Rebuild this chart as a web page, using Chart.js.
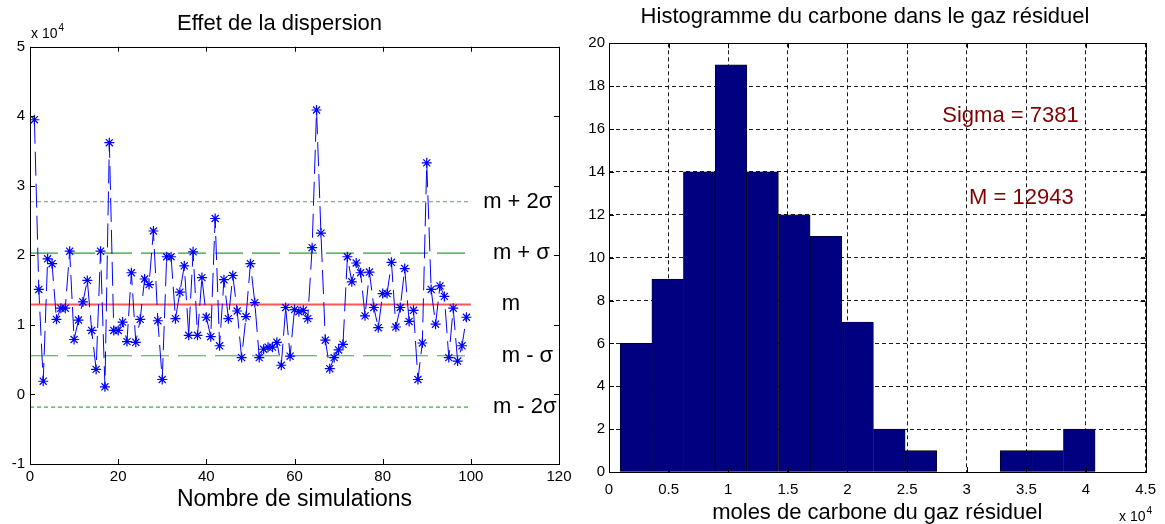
<!DOCTYPE html>
<html>
<head>
<meta charset="utf-8">
<script src="https://cdn.jsdelivr.net/npm/chart.js@4.4.1/dist/chart.umd.min.js"></script>
<style>
  html, body { margin: 0; padding: 0; background: #fff; }
  #wrap { position: relative; width: 1165px; height: 524px; overflow: hidden; }
  #leftBox { position: absolute; left: 0; top: 0; width: 580px; height: 524px; }
  #rightBox { position: absolute; left: 580px; top: 0; width: 585px; height: 524px; }
</style>
</head>
<body>
<div id="wrap">
  <div id="leftBox"><canvas id="dispChart" width="580" height="524"></canvas></div>
  <div id="rightBox"><canvas id="histChart" width="585" height="524"></canvas></div>
</div>
<script>
// --- Données : effet de la dispersion (moles de carbone, simulations 1..99) ---
const simValues = [
  39500, 15100, 1900, 19500, 18800, 10800, 12400, 12400, 20600, 7900,
  10700, 13300, 16400, 9200, 3600, 20600, 1100, 36200, 9200, 9200,
  10400, 7600, 17500, 7500, 10800, 16600, 15800, 23500, 10600, 2150,
  19800, 19800, 10900, 14700, 18500, 8500, 20500, 8500, 16800, 11100,
  8300, 25300, 7000, 16500, 10900, 17100, 12000, 5300, 11200, 18800,
  13200, 5300, 6500, 6800, 6800, 7500, 4200, 12500, 5500, 12200,
  11900, 12100, 10900, 21100, 40900, 23200, 7800, 3700, 5300, 6400,
  7200, 19800, 16200, 18900, 17500, 11300, 17600, 12500, 9600, 14500,
  14500, 19000, 9700, 12500, 18100, 10500, 12100, 2150, 7400, 33300,
  15100, 10100, 15600, 14100, 5300, 12400, 4800, 7000, 11100
];

// lignes de référence m, m ± sigma, m ± 2 sigma
const refLabels = ['m + 2σ', 'm + σ', 'm', 'm - σ', 'm - 2σ'];
const refLevels = [27705, 20324, 12943, 5562, -1819];
const refColors = ['#7a8f7a', '#008000', '#ff5555', '#4f9a4f', '#00a000'];
const refDashes = [[4, 3], [28, 9], [], [28, 9], [4, 3]];
const refWidths = [1, 1, 2, 1, 1];
const refLabelX = [102.8, 105, 107, 107, 105];
const refRange = [0, 100];

// --- Données : histogramme ---
const binCenters = [2260, 4920, 7570, 10230, 12880, 15540, 18190, 20850,
                    23510, 26160, 28820, 31470, 34130, 36780, 39440];
const binCounts = [6, 9, 14, 19, 14, 12, 11, 7, 2, 1, 0, 0, 1, 1, 2];

const statLabels = ['Sigma = 7381', 'M = 12943'];
const statX = [27950, 30200];
const statY = [16.6, 12.8];

const FONT = "'Liberation Sans', Arial, sans-serif";

// cadre + petites graduations intérieures (style matlab)
const framePlugin = {
  id: 'frame',
  afterDatasetsDraw(chart) {
    const { ctx, chartArea: a } = chart;
    const xs = chart.scales.x, ys = chart.scales.y;
    ctx.save();
    ctx.strokeStyle = '#000';
    ctx.lineWidth = 1;
    ctx.setLineDash([]);
    ctx.beginPath();
    xs.ticks.forEach(t => {
      const px = Math.round(xs.getPixelForValue(t.value)) + 0.5;
      ctx.moveTo(px, a.bottom); ctx.lineTo(px, a.bottom - 5);
      ctx.moveTo(px, a.top); ctx.lineTo(px, a.top + 5);
    });
    ys.ticks.forEach(t => {
      const py = Math.round(ys.getPixelForValue(t.value)) + 0.5;
      ctx.moveTo(a.left, py); ctx.lineTo(a.left + 5, py);
      ctx.moveTo(a.right, py); ctx.lineTo(a.right - 5, py);
    });
    ctx.stroke();
    ctx.strokeRect(Math.round(a.left) + 0.5, Math.round(a.top) + 0.5,
                   Math.round(a.right - a.left), Math.round(a.bottom - a.top));
    ctx.restore();
  }
};

function drawExponent(ctx, x, y) {
  ctx.save();
  ctx.fillStyle = '#000';
  ctx.textAlign = 'left';
  ctx.textBaseline = 'alphabetic';
  ctx.font = '14px ' + FONT;
  ctx.fillText('x 10', x, y);
  const w = ctx.measureText('x 10').width;
  ctx.font = '10px ' + FONT;
  ctx.fillText('4', x + w + 1, y - 7);
  ctx.restore();
}

const dispNotes = {
  id: 'dispNotes',
  afterDraw(chart) {
    const { ctx, chartArea: a } = chart;
    const xs = chart.scales.x, ys = chart.scales.y;
    ctx.save();
    ctx.fillStyle = '#000';
    ctx.font = '22px ' + FONT;
    ctx.textAlign = 'left';
    ctx.textBaseline = 'middle';
    refLabels.forEach((lab, i) => {
      ctx.fillText(lab, xs.getPixelForValue(refLabelX[i]), ys.getPixelForValue(refLevels[i]));
    });
    ctx.restore();
    drawExponent(ctx, a.left + 1, a.top - 9);
  }
};

const histNotes = {
  id: 'histNotes',
  afterDraw(chart) {
    const { ctx } = chart;
    const xs = chart.scales.x, ys = chart.scales.y;
    ctx.save();
    ctx.fillStyle = '#800000';
    ctx.font = '22px ' + FONT;
    ctx.textAlign = 'left';
    ctx.textBaseline = 'middle';
    statLabels.forEach((lab, i) => {
      ctx.fillText(lab, xs.getPixelForValue(statX[i]), ys.getPixelForValue(statY[i]));
    });
    ctx.restore();
    drawExponent(ctx, 1119 - 580, 521);
  }
};

// --- graphique de gauche ---
const refSets = refLevels.map((lvl, i) => ({
  label: refLabels[i],
  data: refRange.map(xv => ({ x: xv, y: lvl })),
  borderColor: refColors[i],
  borderWidth: refWidths[i],
  borderDash: refDashes[i],
  pointRadius: 0,
  fill: false
}));

new Chart(document.getElementById('dispChart'), {
  type: 'line',
  data: {
    datasets: [{
      label: 'simulations',
      data: simValues.map((v, i) => ({ x: i + 1, y: v })),
      borderColor: '#0000ff',
      borderWidth: 1,
      borderDash: [24, 8],
      pointStyle: 'star',
      pointRadius: 5,
      pointBorderColor: '#0000ff',
      pointBorderWidth: 1.2,
      pointBackgroundColor: '#0000ff',
      tension: 0,
      fill: false
    }, ...refSets]
  },
  options: {
    responsive: false,
    animation: false,
    layout: { padding: { left: 0, right: 21, top: 0, bottom: 0 } },
    plugins: {
      legend: { display: false },
      tooltip: { enabled: false },
      title: {
        display: true,
        text: 'Effet de la dispersion',
        color: '#000',
        font: { family: FONT, size: 22, weight: 'normal' },
        padding: { top: 10.5, bottom: 9.8 }
      }
    },
    scales: {
      x: {
        type: 'linear',
        min: 0, max: 120,
        grid: { display: false, drawTicks: false },
        border: { display: false },
        ticks: { stepSize: 20, padding: 4, color: '#000', font: { family: FONT, size: 15 }, maxRotation: 0 },
        title: {
          display: true,
          text: 'Nombre de simulations',
          color: '#000',
          font: { family: FONT, size: 23 },
          padding: { top: 0, bottom: 10.2 }
        },
        afterFit(s) { s.height = 60; }
      },
      y: {
        type: 'linear',
        min: -10000, max: 50000,
        grid: { display: false, drawTicks: false },
        border: { display: false },
        ticks: { stepSize: 10000, padding: 5, color: '#000', font: { family: FONT, size: 15 },
                 callback: v => v / 10000 },
        afterFit(s) { s.width = 30; }
      }
    }
  },
  plugins: [framePlugin, dispNotes]
});

// --- graphique de droite : histogramme ---
new Chart(document.getElementById('histChart'), {
  type: 'bar',
  data: {
    datasets: [{
      label: 'carbone',
      data: binCenters.map((c, i) => ({ x: c, y: binCounts[i] })),
      backgroundColor: '#000080',
      borderColor: '#000',
      borderWidth: 0.7,
      borderSkipped: false,
      barPercentage: 1,
      categoryPercentage: 1
    }]
  },
  options: {
    responsive: false,
    animation: false,
    layout: { padding: { left: 0, right: 15, top: 0, bottom: 0 } },
    plugins: {
      legend: { display: false },
      tooltip: { enabled: false },
      title: {
        display: true,
        text: 'Histogramme du carbone dans le gaz résiduel',
        color: '#000',
        font: { family: FONT, size: 22, weight: 'normal' },
        padding: { top: 3.8, bottom: 13.1 }
      }
    },
    scales: {
      x: {
        type: 'linear',
        min: 0, max: 45000,
        offset: false,
        grid: { display: true, offset: false, drawTicks: false, color: 'rgba(0,0,0,0.9)', lineWidth: 1 },
        border: { display: false, dash: [4, 3] },
        ticks: { stepSize: 5000, padding: 9, color: '#000', font: { family: FONT, size: 15 },
                 maxRotation: 0, autoSkip: false, callback: v => v / 10000 },
        title: {
          display: true,
          text: 'moles de carbone du gaz résiduel',
          color: '#000',
          font: { family: FONT, size: 22, lineHeight: 1 },
          padding: { top: 0, bottom: 0 }
        },
        afterFit(s) { s.height = 52; }
      },
      y: {
        type: 'linear',
        min: 0, max: 20,
        grid: { display: true, drawTicks: false, color: 'rgba(0,0,0,0.9)', lineWidth: 1 },
        border: { display: false, dash: [4, 3] },
        ticks: { stepSize: 2, padding: 4, color: '#000', font: { family: FONT, size: 15 } },
        afterFit(s) { s.width = 29; }
      }
    }
  },
  plugins: [framePlugin, histNotes]
});
</script>
</body>
</html>
